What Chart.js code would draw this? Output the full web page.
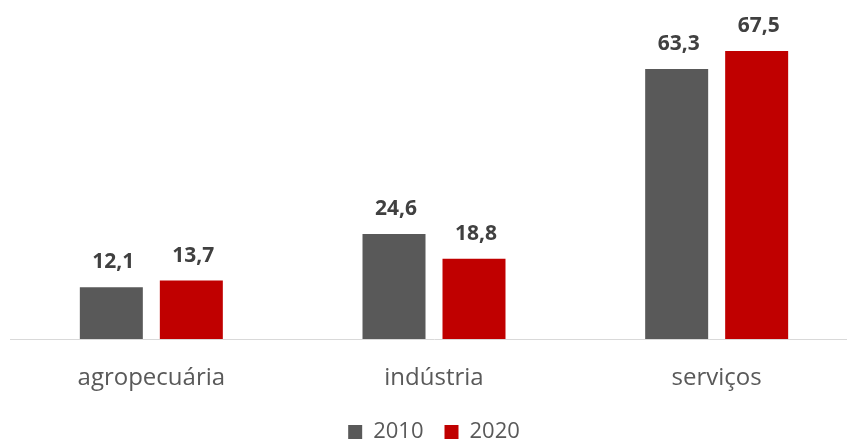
<!DOCTYPE html>
<html>
<head>
<meta charset="utf-8">
<script src="https://cdn.jsdelivr.net/npm/chart.js@4"></script>
<style>
  html, body { margin: 0; padding: 0; background: #fff; overflow: hidden; }
  #wrap { position: relative; width: 870px; height: 453px; }
</style>
</head>
<body>
<div id="wrap"><canvas id="chart"></canvas></div>
<script>
// valores
const categories = ['agropecuária', 'indústria', 'serviços'];
const values2010 = [12.1, 24.6, 63.3];
const values2020 = [13.7, 18.8, 67.5];
const seriesNames = ['2010', '2020'];

const FONT = '"Open Sans", "Noto Sans", sans-serif';

// rótulos de valor acima das barras (formato pt-BR)
const valueLabels = {
    id: 'valueLabels',
    afterDatasetsDraw(chart) {
        const ctx = chart.ctx;
        ctx.save();
        ctx.font = 'bold 21px ' + FONT;
        ctx.fillStyle = '#404040';
        ctx.textAlign = 'center';
        ctx.textBaseline = 'alphabetic';
        chart.data.datasets.forEach((ds, i) => {
            chart.getDatasetMeta(i).data.forEach((bar, j) => {
                const txt = ds.data[j].toFixed(1).replace('.', ',');
                ctx.fillText(txt, bar.x + 2, bar.y - 19);
            });
        });
        ctx.restore();
    }
};

new Chart(document.getElementById('chart'), {
    type: 'bar',
    data: {
        labels: categories,
        datasets: [
            { label: seriesNames[0], data: values2010, backgroundColor: '#595959' },
            { label: seriesNames[1], data: values2020, backgroundColor: '#C00000' },
        ],
    },
    options: {
        responsive: true,
        maintainAspectRatio: false,
        animation: false,
        categoryPercentage: 0.566,
        barPercentage: 0.7875,
        layout: { padding: { left: 10, right: 12, top: 19, bottom: 0 } },
        plugins: {
            tooltip: { enabled: false },
            legend: {
                position: 'bottom',
                labels: {
                    boxWidth: 14,
                    boxHeight: 14,
                    padding: 21,
                    color: '#595959',
                    font: { family: FONT, size: 22 },
                },
            },
        },
        scales: {
            x: {
                grid: { display: false, drawTicks: false },
                border: { display: true, color: '#d9d9d9', width: 1 },
                ticks: {
                    padding: 25,
                    color: '#595959',
                    font: { family: FONT, size: 24 },
                },
                afterFit(scale) { scale.height = 61; },
            },
            y: {
                display: false,
                min: 0,
                max: 75,
            },
        },
    },
    plugins: [valueLabels],
});
</script>
</body>
</html>
